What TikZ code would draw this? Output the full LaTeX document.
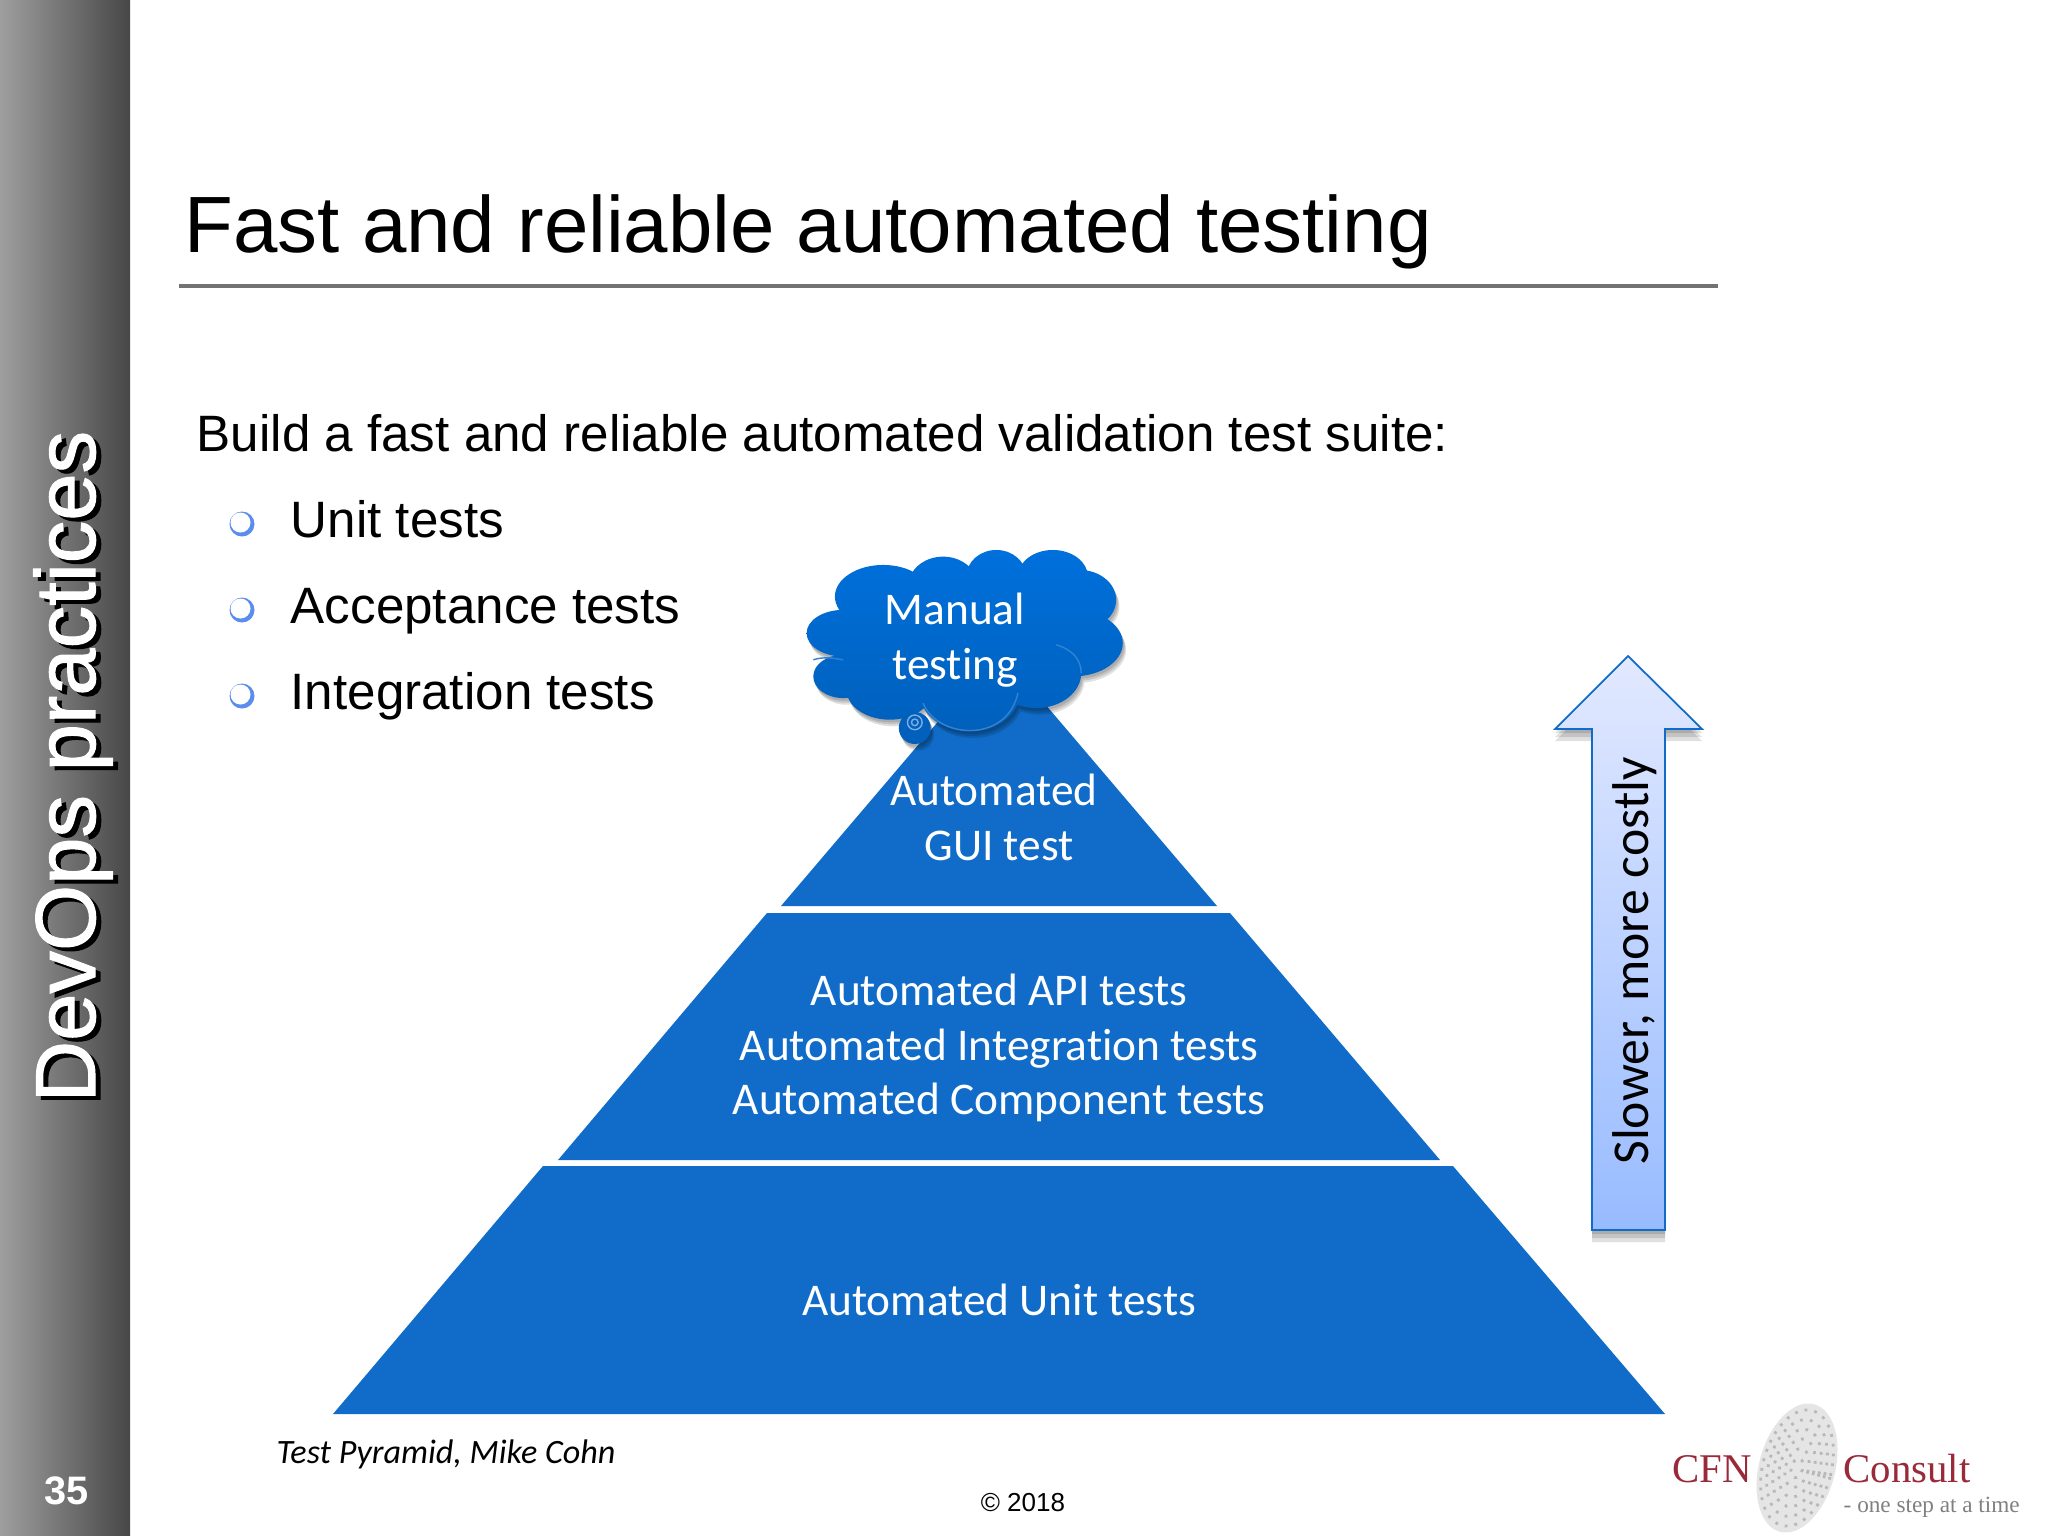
\documentclass[tikz,border=0pt]{standalone}
\usepackage{fontspec}
\setmainfont{Liberation Sans}
\newfontfamily\carlito[Ligatures=CommonOff]{Carlito}
\newfontfamily\logoserif{Liberation Serif}
\newfontfamily\sidefont[FakeBold=1.2]{Liberation Sans}
\definecolor{pyrblue}{HTML}{106CC8}
\definecolor{cloudtop}{HTML}{0070DC}
\definecolor{cloudbottom}{HTML}{0060BC}
\definecolor{bulletblue}{HTML}{5B8DEF}
\definecolor{logored}{HTML}{9A2A3A}
\definecolor{arrowtop}{HTML}{E2E9FF}
\definecolor{arrowbottom}{HTML}{98BBFF}
\tikzset{
  pyramidtier/.style={fill=pyrblue},
  pyrtext/.style={text=white,align=center,font=\carlito\fontsize{12.9}{15.6}\selectfont},
  bodytext/.style={anchor=base west,inner sep=0pt,font=\fontsize{14.55}{17}\selectfont},
  sidetext/.style={anchor=base west,inner sep=0pt,rotate=90,font=\sidefont\fontsize{24.2}{27}\selectfont},
  softshadow/.style={fill=black,opacity=0.12}
}
\newcommand{\arrowshape}{(1628,656) -- (1702,729) -- (1665,729) -- (1665,1230) -- (1592,1230) -- (1592,729) -- (1555,729) -- cycle}
\newcommand{\cloudlobes}{
  \foreach \cx/\cy/\rx/\ry in {190/310/110/70,190/440/90/65,310/200/145/95,490/170/105/90,650/140/90/80,820/140/105/80,900/210/110/90,880/340/150/100,770/430/135/105,570/490/150/115,330/480/130/90,550/320/350/180}
    { (\cx,\cy) ellipse [x radius=\rx,y radius=\ry] }
}
\begin{document}
\begin{tikzpicture}[x=0.01cm,y=-0.01cm]
\useasboundingbox (0,0) rectangle (2048,1536);
\fill[white] (0,0) rectangle (2048,1536);
% side bar
\fill[left color=black!38,right color=black!72] (0,0) rectangle (130,1536);
\node[sidetext,text=black] (sidebarshadow) at (100,1107) {DevOps practices};
\node[sidetext,text=white] (sidebar) at (95,1103) {DevOps practices};
\node[text=white,font=\bfseries\fontsize{11.3}{13}\selectfont] (pagenum) at (67,1491) {35};
% title
\node[anchor=base west,inner sep=0pt,font=\fontsize{22.7}{26}\selectfont] (title) at (184,252) {Fast and reliable automated testing};
\draw[black!55,line width=1pt] (179,286) -- (1718,286);
% list
\node[bodytext] (build) at (196,451) {Build a fast and reliable automated validation test suite:};
\foreach \ypos/\name/\itemtext in {537/unit/Unit tests,623/acceptance/Acceptance tests,709/integration/Integration tests}{
  \fill[bulletblue] (242,\ypos-13) circle (12.5);
  \fill[white] (240.5,\ypos-14.5) circle (10);
  \node[bodytext] (\name) at (290,\ypos) {\itemtext};
}
% pyramid
\fill[pyramidtier] (333,1414) -- (1665,1414) -- (1453,1166) -- (543,1166) -- cycle;
\fill[pyramidtier] (558,1160) -- (1440,1160) -- (1230,913) -- (767,913) -- cycle;
\fill[pyramidtier] (781,906) -- (1217,906) -- (999,650) -- cycle;
\node[pyrtext] (gui) at (999,817) {Automated\kern3pt\\GUI test};
\node[pyrtext] (middle) at (999,1048) {Automated API tests\\Automated Integration tests\\Automated Component tests};
\node[pyrtext] (unittier) at (999,1300) {Automated Unit tests};
% cloud
\begin{scope}[shift={(780,530)},x=0.00333cm,y=-0.00333cm]
\foreach \off in {8,14,20}{
  \path[softshadow,shift={(\off*0.5,\off)}] \cloudlobes (405,595) circle (48);
}
\path[top color=cloudtop,bottom color=cloudbottom] \cloudlobes;
\fill[cloudbottom] (405,595) circle (48);
\draw[white!45!pyrblue,line width=0.4pt] (405,578) circle (22) (405,578) circle (10);
\draw[white!15!pyrblue,line width=0.4pt] (430,520) .. controls (470,625) and (680,645) .. (715,490);
\draw[white!15!pyrblue,line width=0.4pt] (830,345) .. controls (880,360) and (905,390) .. (905,430);
\draw[white!15!pyrblue,line width=0.4pt] (100,390) .. controls (130,380) and (160,385) .. (190,390);
\end{scope}
\node[pyrtext] (manual) at (955,640) {Manual\\testing};
% arrow
\foreach \off in {4,8,12}{
  \fill[softshadow,shift={(0,\off)}] \arrowshape;
}
\draw[draw=pyrblue,line width=0.5pt,top color=arrowtop,bottom color=arrowbottom] \arrowshape;
\node[rotate=90,font=\carlito\fontsize{14.7}{16}\selectfont] (slower) at (1635,961) {Slower, more costly};
% footer
\node[anchor=base west,inner sep=0pt,font=\carlito\itshape\fontsize{9.7}{11}\selectfont] (source) at (276,1463) {Test Pyramid, Mike Cohn};
\node[font=\fontsize{7.4}{9}\selectfont] (copyright) at (1023,1503) {© 2018};
% logo
\begin{scope}[shift={(1797,1468)},rotate=-15]
\fill[black!10] (0,0) ellipse [x radius=38,y radius=66];
\foreach \rr in {0.15,0.3,0.45,0.6,0.75,0.9}{
  \draw[black!28,line width=0.8pt,dotted] (0,0) ellipse [x radius=38*\rr,y radius=66*\rr];
}
\end{scope}
\node[anchor=base west,inner sep=0pt,text=logored,font=\logoserif\fontsize{11.6}{14}\selectfont] (logocfn) at (1672,1482) {CFN};
\node[anchor=base west,inner sep=0pt,text=logored,font=\logoserif\fontsize{11.6}{14}\selectfont] (logoconsult) at (1843,1482) {Consult};
\node[anchor=base west,inner sep=0pt,text=black!50,font=\logoserif\fontsize{6.6}{7}\selectfont] (logotag) at (1843,1512) {- one step at a time};
\end{tikzpicture}
\end{document}
